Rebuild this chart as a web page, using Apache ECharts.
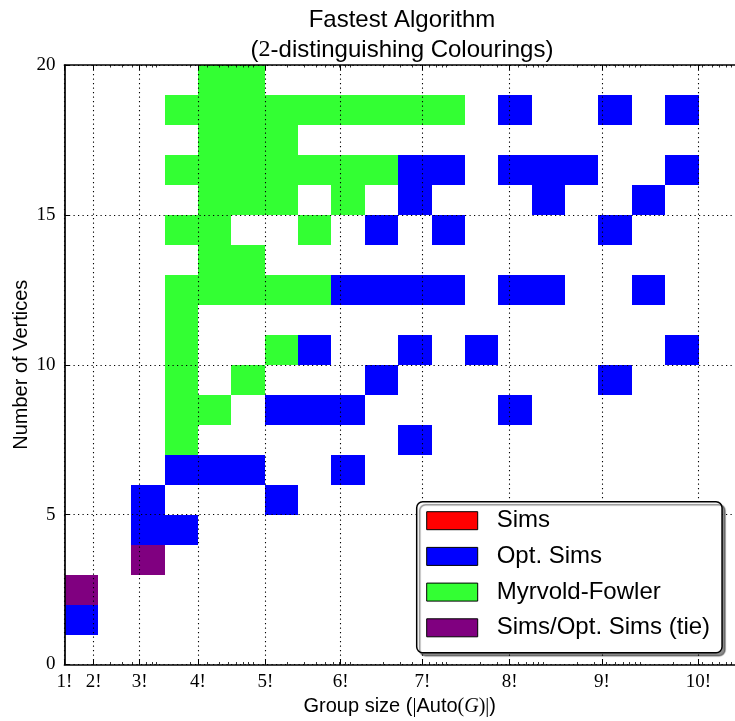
<!DOCTYPE html>
<html>
<head>
<meta charset="utf-8">
<script src="https://cdn.jsdelivr.net/npm/echarts@6/dist/echarts.min.js"></script>
<style>
html,body{margin:0;padding:0;background:#fff;}
#chart{width:735px;height:721px;}
</style>
</head>
<body>
<div id="chart"></div>
<script>
// ---- data ----
const seriesNames = ['Sims', 'Opt. Sims', 'Myrvold-Fowler', 'Sims/Opt. Sims (tie)'];
const seriesColors = ['#ff0000', '#0000ff', '#33ff33', '#800080'];
// cells: [column (log group-size bin), row (number of vertices)]
const simsCells = [];
const optSimsCells = [
  [0,1],[2,4],[3,4],[2,5],[6,5],[3,6],[4,6],[5,6],[8,6],[10,7],
  [6,8],[7,8],[8,8],[13,8],[9,9],[16,9],[7,10],[10,10],[12,10],[18,10],
  [8,12],[9,12],[10,12],[11,12],[13,12],[14,12],[17,12],
  [9,14],[11,14],[16,14],[10,15],[14,15],[17,15],
  [10,16],[11,16],[13,16],[14,16],[15,16],[18,16],
  [13,18],[16,18],[18,18]
];
const myrvoldFowlerCells = [
  [3,7],[3,8],[4,8],[3,9],[5,9],[3,10],[6,10],[3,11],
  [3,12],[4,12],[5,12],[6,12],[7,12],[4,13],[5,13],
  [3,14],[4,14],[7,14],[4,15],[5,15],[6,15],[8,15],
  [3,16],[4,16],[5,16],[6,16],[7,16],[8,16],[9,16],
  [4,17],[5,17],[6,17],
  [3,18],[4,18],[5,18],[6,18],[7,18],[8,18],[9,18],[10,18],[11,18],
  [4,19],[5,19]
];
const tieCells = [[0,2],[2,3]];
const xTickFactorials = [1,2,3,4,5,6,7,8,9,10];
const xTickLabels = ['1!','2!','3!','4!','5!','6!','7!','8!','9!','10!'];
const yTickInterval = 5;
const yMin = 0, yMax = 20;
const binsUpTo10Fact = 19;   // 10! lies on the 19th bin edge
const xMaxLog = 6.937;       // visible right end of the log axis

// ---- derived scales ----
function fact(n){ let p = 1; for (let i = 2; i <= n; i++) p *= i; return p; }
const majorX = xTickFactorials.map(n => Math.log10(fact(n)));
const xBinWidth = Math.log10(fact(10)) / binsUpTo10Fact;
const minorX = [];
for (let e = 0; e <= 6; e++) for (let k = 2; k <= 9; k++) {
  const v = Math.log10(k * Math.pow(10, e));
  if (v <= xMaxLog) minorX.push(v);
}
function xLabel(v){
  let best = 0;
  for (let i = 1; i < majorX.length; i++) if (Math.abs(majorX[i]-v) < Math.abs(majorX[best]-v)) best = i;
  return xTickLabels[best];
}
function toData(cells){
  return cells.map(([c, r]) => [c * xBinWidth, r, (c + 1) * xBinWidth, r + 1]);
}
function renderCell(params, api){
  const a = api.coord([api.value(0), api.value(3)]);
  const b = api.coord([api.value(2), api.value(1)]);
  const x0 = Math.round(a[0]), y0 = Math.round(a[1]);
  const x1 = Math.round(b[0]), y1 = Math.round(b[1]);
  return { type: 'rect', shape: { x: x0, y: y0, width: x1 - x0, height: y1 - y0 },
           style: { fill: api.visual('color') }, silent: true };
}

const sans = 'Liberation Sans, Arial, Helvetica, sans-serif';
const serif = 'Liberation Serif, DejaVu Serif, serif';
const dotted = { color: '#000', width: 1.1, type: [1.2, 3.3] };
const spine = { color: '#000', width: 1.7 };

const cellSets = [simsCells, optSimsCells, myrvoldFowlerCells, tieCells];

const chart = echarts.init(document.getElementById('chart'), null, { renderer: 'canvas' });
chart.setOption({
  backgroundColor: '#fff',
  animation: false,
  title: {
    text: '{a|Fastest Algorithm}\n{a|(}{m|2}{a|-distinguishing Colourings)}',
    left: 402, textAlign: 'center', top: 5, padding: 0,
    textStyle: {
      fontWeight: 'normal',
      rich: {
        a: { fontSize: 24, fontFamily: sans, fontWeight: 'normal', color: '#000', lineHeight: 30 },
        m: { fontSize: 24, fontFamily: serif, fontWeight: 'normal', color: '#000', lineHeight: 30 }
      }
    }
  },
  grid: { left: 64.5, top: 65, right: 0, bottom: 56.5, containLabel: false, outerBoundsMode: 'none' },
  legend: {
    data: seriesNames, orient: 'vertical', left: 416.7, top: 501.7,
    icon: 'rect', itemWidth: 51, itemHeight: 18, itemGap: 9.7,
    padding: [6, 12, 12, 9.5],
    backgroundColor: '#fff', borderColor: '#000', borderWidth: 1.5, borderRadius: 6,
    shadowColor: 'rgba(0,0,0,0.45)', shadowBlur: 1, shadowOffsetX: 3, shadowOffsetY: 3,
    itemStyle: { borderColor: '#000', borderWidth: 1 },
    textStyle: { fontSize: 24, fontFamily: sans, color: '#000', lineHeight: 26, padding: [0, 0, 0, 14] },
    selectedMode: false, z: 20
  },
  xAxis: [
    {
      type: 'value', position: 'bottom', min: 0, max: xMaxLog, z: 10,
      axisLine: { show: true, onZero: false, lineStyle: spine },
      axisTick: { show: true, inside: true, length: 5, customValues: majorX, lineStyle: { color: '#000', width: 1 } },
      axisLabel: { show: true, customValues: majorX, formatter: v => xLabel(v), margin: 8,
                   color: '#000', fontFamily: serif, fontSize: 19 },
      splitLine: { show: true, lineStyle: dotted },
      name: '{s|Group size (}{m||}{s|Auto}{m|(}{i|G}{m|)|}{s|)}',
      nameLocation: 'middle', nameGap: 28,
      nameTextStyle: {
        rich: {
          s: { fontSize: 20, fontFamily: sans, color: '#000' },
          m: { fontSize: 20, fontFamily: serif, color: '#000' },
          i: { fontSize: 20, fontFamily: serif, fontStyle: 'italic', color: '#000' }
        }
      }
    },
    {
      type: 'value', position: 'bottom', min: 0, max: xMaxLog, z: 10,
      axisLine: { show: false, onZero: false },
      axisTick: { show: true, inside: true, length: 2.5, customValues: minorX, lineStyle: { color: '#000', width: 0.8 } },
      axisLabel: { show: false }, splitLine: { show: false }
    },
    {
      type: 'value', position: 'top', min: 0, max: xMaxLog, z: 10,
      axisLine: { show: true, onZero: false, lineStyle: spine },
      axisTick: { show: true, inside: true, length: 5, customValues: majorX, lineStyle: { color: '#000', width: 1 } },
      axisLabel: { show: false }, splitLine: { show: false }
    },
    {
      type: 'value', position: 'top', min: 0, max: xMaxLog, z: 10,
      axisLine: { show: false, onZero: false },
      axisTick: { show: true, inside: true, length: 2.5, customValues: minorX, lineStyle: { color: '#000', width: 0.8 } },
      axisLabel: { show: false }, splitLine: { show: false }
    }
  ],
  yAxis: {
    type: 'value', min: yMin, max: yMax, interval: yTickInterval, z: 10,
    axisLine: { show: true, onZero: false, lineStyle: spine },
    axisTick: { show: true, inside: true, length: 5, lineStyle: { color: '#000', width: 1 } },
    axisLabel: { color: '#000', fontFamily: serif, fontSize: 19, margin: 9 },
    splitLine: { show: true, lineStyle: dotted },
    name: 'Number of Vertices', nameLocation: 'middle', nameGap: 33, nameMoveOverlap: false,
    nameTextStyle: { fontSize: 20, fontFamily: sans, color: '#000' }
  },
  series: seriesNames.map((name, i) => ({
    name: name, type: 'custom', coordinateSystem: 'cartesian2d',
    xAxisIndex: 0, yAxisIndex: 0,
    itemStyle: { color: seriesColors[i] },
    encode: { x: [0, 2], y: [1, 3] },
    renderItem: renderCell,
    data: toData(cellSets[i]),
    z: 2
  }))
});
</script>
</body>
</html>
